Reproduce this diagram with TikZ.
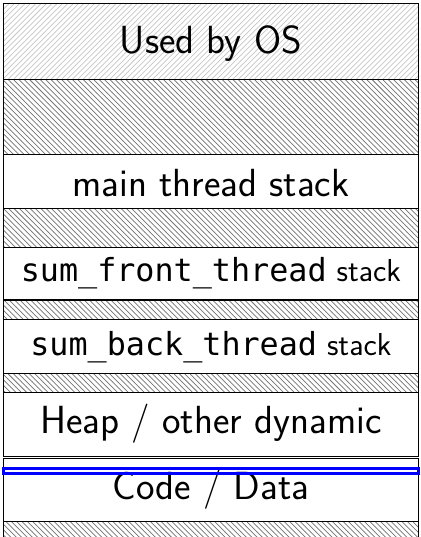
\documentclass[tikz,border=0pt]{standalone}
\usepackage{fontspec}
\setmonofont{DejaVu Sans Mono}
\usetikzlibrary{patterns}
\begin{document}
\begin{tikzpicture}[line width=0.6pt,
    used/.style={draw=black, pattern=north east lines, pattern color=black!22},
    gap/.style={draw=black, pattern=north west lines, pattern color=black!55},
    region/.style={draw=black, fill=white},
    lbl/.style={anchor=base, inner sep=0pt, font=\fontsize{22}{26}\selectfont\sffamily},
    tlbl/.style={anchor=base, inner sep=0pt, font=\fontsize{17.8}{21}\selectfont\sffamily}]
  \useasboundingbox (0,0) rectangle (8.29,10.58);
  \clip (0,0) rectangle (8.29,10.58);
  %Used by OS
  \draw[used] (0.06,9.02) rectangle (8.25,10.52);
  \node[lbl] (os) at (4.155,9.53) {Used by OS};
  %free space between the stacks
  \draw[gap] (0.06,7.53) rectangle (8.25,9.02);
  \draw[gap] (0.06,5.71) rectangle (8.25,6.48);
  \draw[gap] (0.06,4.28) rectangle (8.25,4.67);
  \draw[gap] (0.06,2.84) rectangle (8.25,3.23);
  \draw[gap] (0.06,-0.5) rectangle (8.25,0.30);
  %stacks
  \draw[region] (0.06,6.48) rectangle (8.25,7.53);
  \node[lbl] (mainstack) at (4.155,6.70) {main thread stack};
  \draw[region] (0.06,4.67) rectangle (8.25,5.71);
  \node[tlbl] (frontstack) at (4.155,5.03) {\texttt{sum\_front\_thread} stack};
  \draw[region] (0.06,3.23) rectangle (8.25,4.28);
  \node[tlbl] (backstack) at (4.155,3.58) {\texttt{sum\_back\_thread} stack};
  %heap and code
  \draw[region] (0.06,1.58) rectangle (8.25,2.84);
  \node[lbl] (heap) at (4.155,2.03) {Heap / other dynamic};
  \draw[region] (0.06,0.30) rectangle (8.25,1.54);
  \node[lbl] (code) at (4.155,0.74) {Code / Data};
  %highlight
  \draw[blue, line width=1.7pt] (0.06,1.25) rectangle (8.25,1.35);
\end{tikzpicture}
\end{document}
